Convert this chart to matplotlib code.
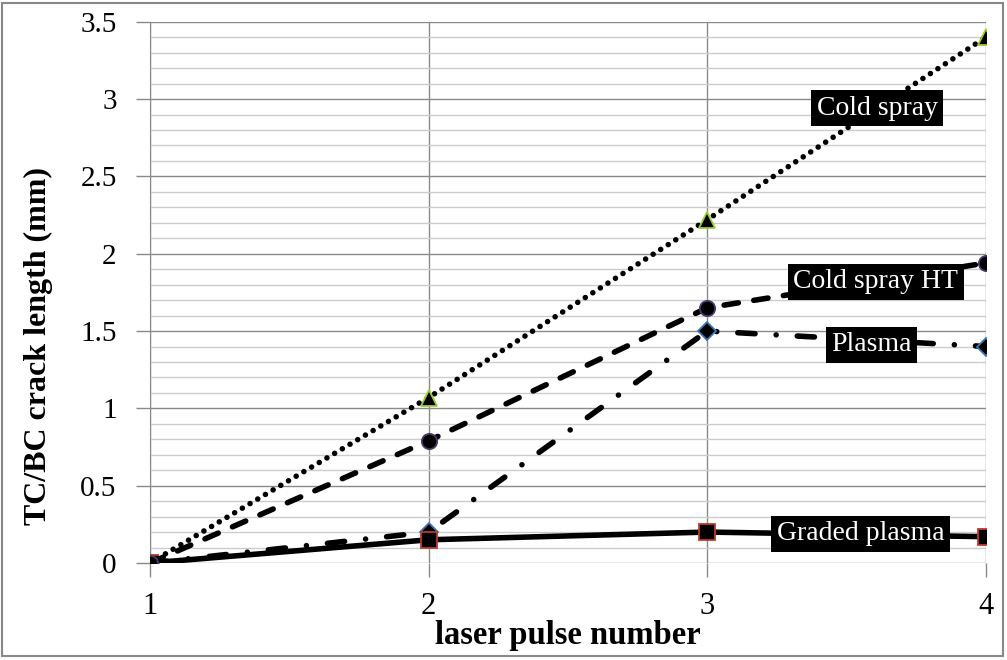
import matplotlib
matplotlib.use("Agg")
import matplotlib.pyplot as plt
from matplotlib.patches import Rectangle

pulses = [1, 2, 3, 4]
cold_spray = [0.0, 1.07, 2.22, 3.40]
cold_spray_ht = [0.0, 0.79, 1.65, 1.94]
plasma = [0.0, 0.20, 1.50, 1.40]
graded_plasma = [0.0, 0.15, 0.20, 0.17]

x_ticks = [1, 2, 3, 4]
y_ticks = [0, 0.5, 1, 1.5, 2, 2.5, 3, 3.5]
y_tick_labels = ["0", "0.5", "1", "1.5", "2", "2.5", "3", "3.5"]

plt.rcParams["font.family"] = ["Liberation Serif", "DejaVu Serif"]

fig = plt.figure(figsize=(10.07, 6.6), dpi=100)
ax = fig.add_axes([0.149, 0.147, 0.830, 0.820])

# figure border
fig.patches.append(Rectangle((0.002, 0.006), 0.994, 0.989, transform=fig.transFigure,
                             fill=False, edgecolor="#888888", linewidth=1.5))

# (values, linestyle, marker, size, edge colour, label, label pos, zorder)
series = [
    (plasma, (0, (3.1, 3.8, 0.01, 3.8)), "D", 9, "#3c78b4", "Plasma", (3.59, 1.41), 3),
    (graded_plasma, "-", "s", 11, "#c0392b", "Graded plasma", (3.55, 0.19), 3.1),
    (cold_spray, (0, (0.01, 1.6)), "^", 12, "#9acd32", "Cold spray", (3.61, 2.94), 3.2),
    (cold_spray_ht, (0, (2.6, 2.8)), "o", 11, "#4b3a6b", "Cold spray HT", (3.605, 1.82), 3.3),
]

for vals, ls, mk, ms, edge, name, pos, z in series:
    ax.plot(pulses, vals, color="black", linestyle=ls, linewidth=4,
            dash_capstyle="round", solid_capstyle="round", marker=mk, markersize=ms,
            markerfacecolor="black", markeredgecolor=edge, markeredgewidth=1.3,
            zorder=z)
    ax.text(pos[0], pos[1], name, color="white", fontsize=20, ha="center", va="center",
            zorder=5, bbox=dict(boxstyle="square,pad=0.2", facecolor="black", edgecolor="none"))

ax.set_xlim(1, 4)
ax.set_ylim(0, 3.5)
ax.set_xticks(x_ticks)
ax.set_yticks(y_ticks)
ax.set_yticklabels(y_tick_labels)
ax.set_yticks([i / 10 for i in range(36)], minor=True)

ax.grid(which="major", axis="both", color="#8a8a8a", linewidth=1.0)
ax.grid(which="minor", axis="y", color="#cccccc", linewidth=1.0)
ax.set_axisbelow(True)

ax.tick_params(axis="y", which="major", length=10, width=1, color="#8a8a8a",
               labelsize=21, pad=14)
ax.tick_params(axis="y", which="minor", length=0)
ax.tick_params(axis="x", which="major", length=10, width=1, color="#8a8a8a",
               labelsize=22, pad=11)

for side in ["top", "right", "bottom"]:
    ax.spines[side].set_visible(False)
ax.spines["left"].set_color("#8a8a8a")

ax.set_xlabel("laser pulse number", fontsize=23.5, fontweight="bold")
ax.set_ylabel("TC/BC crack length (mm)", fontsize=23, fontweight="bold")
ax.xaxis.set_label_coords(0.5, -0.105)
ax.yaxis.set_label_coords(-0.116, 0.401)

fig.savefig("out.png", dpi=100)
